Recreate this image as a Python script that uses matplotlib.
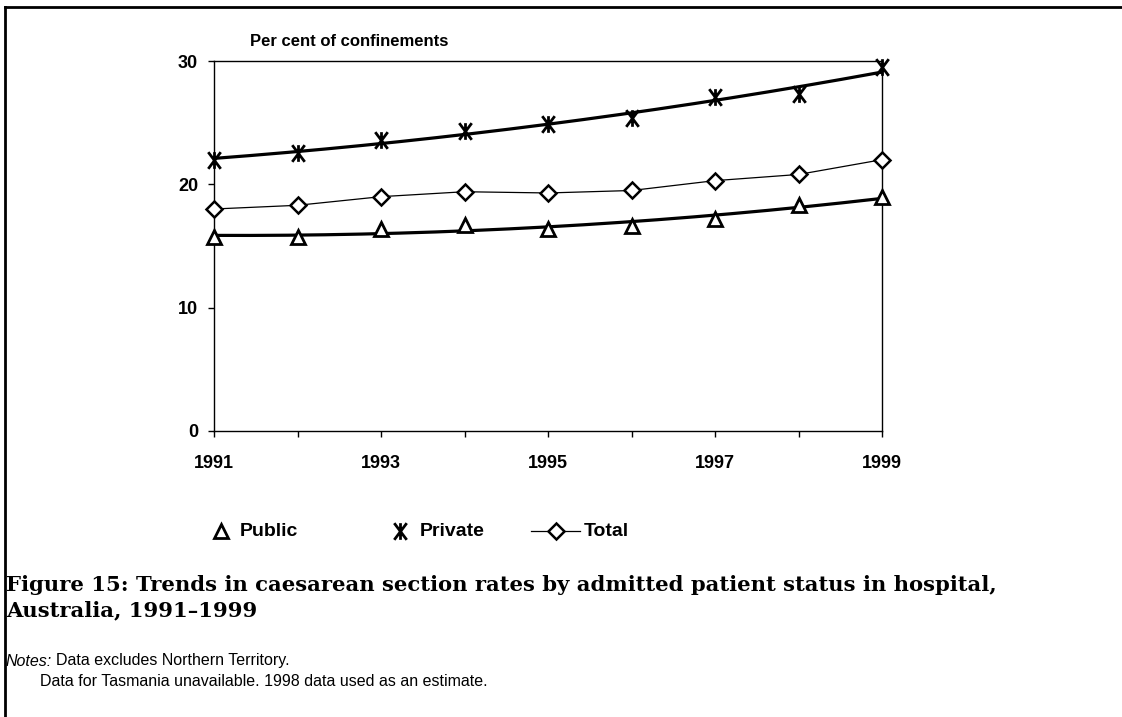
import numpy as np
import matplotlib
matplotlib.use("Agg")
import matplotlib.pyplot as plt
from matplotlib.lines import Line2D
from matplotlib.path import Path

# data (per cent of confinements)
years = [1991, 1992, 1993, 1994, 1995, 1996, 1997, 1998, 1999]
public = [15.7, 15.7, 16.4, 16.7, 16.4, 16.6, 17.2, 18.3, 19.0]
private = [22.0, 22.5, 23.6, 24.3, 24.9, 25.4, 27.1, 27.3, 29.5]
total = [18.0, 18.3, 19.0, 19.4, 19.3, 19.5, 20.3, 20.8, 22.0]
y_ticks = [0, 10, 20, 30]
x_labels = ["1991", "", "1993", "", "1995", "", "1997", "", "1999"]

plt.rcParams['font.family'] = ['Liberation Sans', 'DejaVu Sans']

# asterisk marker: vertical bar plus an X
star = Path([(0, -1), (0, 1), (-0.75, -1), (0.75, 1), (-0.75, 1), (0.75, -1)],
            [Path.MOVETO, Path.LINETO, Path.MOVETO, Path.LINETO, Path.MOVETO, Path.LINETO])

fig = plt.figure(figsize=(11.22, 7.17), dpi=100)
W, H = 1122, 717
ax = fig.add_axes([214 / W, 1 - 431 / H, 668 / W, 370 / H])

# polynomial trend lines (Excel style, order 2)
xs = np.linspace(years[0], years[-1], 200)
ax.plot(xs, np.polyval(np.polyfit(years, public, 2), xs), color='black', lw=2.3, zorder=2)
ax.plot(xs, np.polyval(np.polyfit(years, private, 2), xs), color='black', lw=2.3, zorder=2)

ax.plot(years, public, ls='none', marker='^', ms=10, mfc='white', mec='black', mew=2,
        clip_on=False, zorder=3)
ax.plot(years, private, ls='none', marker=star, ms=12, mec='black', mew=2,
        clip_on=False, zorder=3)
ax.plot(years, total, color='black', lw=0.9, marker='D', ms=8.5, mfc='white', mec='black',
        mew=1.8, clip_on=False, zorder=3)

ax.set_xlim(1991, 1999)
ax.set_ylim(0, 30)
ax.set_xticks(years)
ax.set_xticklabels(x_labels)
ax.set_yticks(y_ticks)
for s in ax.spines.values():
    s.set_linewidth(1.0)
ax.tick_params(axis='both', direction='out', length=4.5, width=1.0, labelsize=13)
ax.tick_params(axis='x', pad=13)
ax.tick_params(axis='y', pad=7)
for t in ax.get_xticklabels() + ax.get_yticklabels():
    t.set_fontweight('bold')

fig.text(250 / W, 1 - 41 / H, "Per cent of confinements", fontsize=12, fontweight='bold',
         va='center', ha='left')

# legend drawn by hand
ly = 1 - 531 / H
fig.add_artist(Line2D([221 / W], [ly], ls='none', marker='^', ms=10, mfc='white', mec='black', mew=2))
fig.text(240 / W, ly, "Public", fontsize=14, fontweight='bold', va='center')
fig.add_artist(Line2D([400 / W], [ly], ls='none', marker=star, ms=12, mec='black', mew=2))
fig.text(420 / W, ly, "Private", fontsize=14, fontweight='bold', va='center')
fig.add_artist(Line2D([531 / W, 580 / W], [ly, ly], color='black', lw=0.9))
fig.add_artist(Line2D([556 / W], [ly], ls='none', marker='D', ms=8.5, mfc='white', mec='black', mew=1.8))
fig.text(584 / W, ly, "Total", fontsize=14, fontweight='bold', va='center')

# caption and notes
serif = ['DejaVu Serif', 'Liberation Serif']
fig.text(6 / W, 1 - 585 / H,
         "Figure 15: Trends in caesarean section rates by admitted patient status in hospital,",
         fontsize=15.2, fontweight='bold', family=serif, va='center', ha='left')
fig.text(6 / W, 1 - 610 / H, "Australia, 1991\u20131999",
         fontsize=15.2, fontweight='bold', family=serif, va='center', ha='left')
notes = fig.text(6 / W, 1 - 661 / H, "Notes:", fontsize=11.5, style='italic', va='center')
ax.annotate("Data excludes Northern Territory.", xy=(1, 0.5), xycoords=notes,
            xytext=(3, 0), textcoords='offset points', fontsize=11.5, va='center', ha='left',
            annotation_clip=False)
fig.text(40 / W, 1 - 681 / H, "Data for Tasmania unavailable. 1998 data used as an estimate.",
         fontsize=11.5, va='center')

# frame round the figure
fig.add_artist(Line2D([5 / W, 1], [1 - 7 / H, 1 - 7 / H], color='black', lw=2))
fig.add_artist(Line2D([5 / W, 5 / W], [0, 1 - 7 / H], color='black', lw=2))

fig.savefig("out.png", dpi=100)
